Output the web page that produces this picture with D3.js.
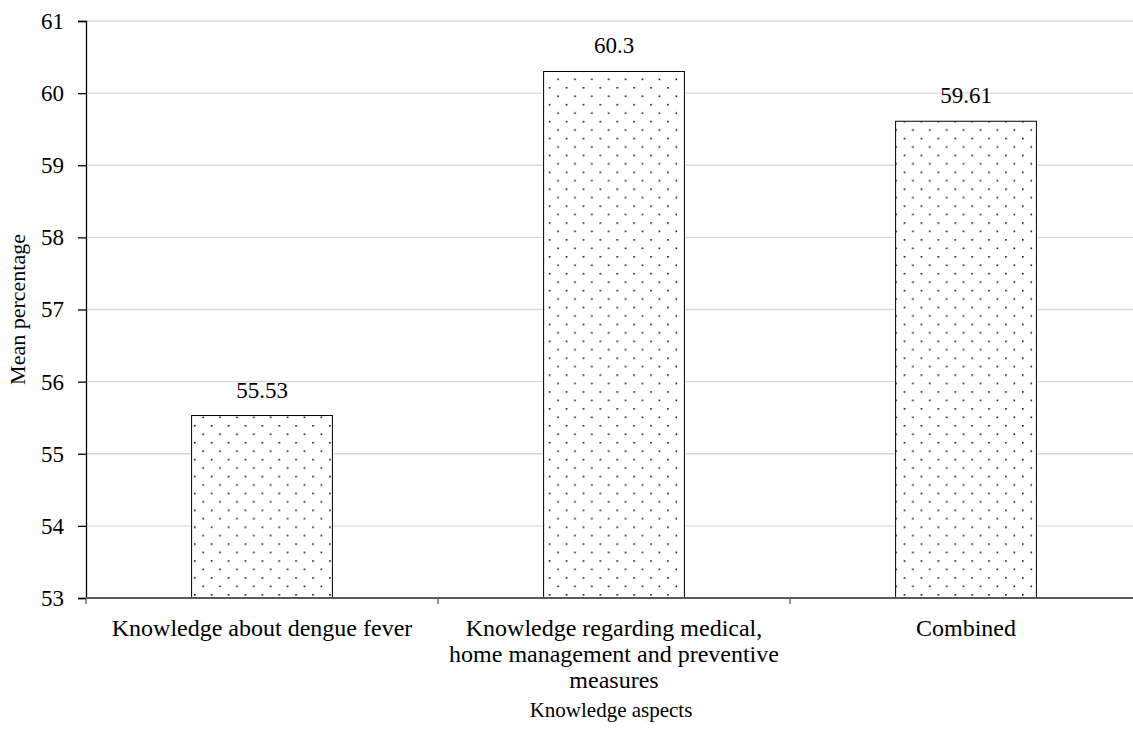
<!DOCTYPE html>
<html>
<head>
<meta charset="utf-8">
<script src="https://cdn.jsdelivr.net/npm/d3@7"></script>
<style>
  html, body { margin: 0; padding: 0; background: #fff; overflow: hidden; }
  svg { display: block; }
</style>
</head>
<body>
<svg id="chart" width="1133" height="738"></svg>
<script>
const categories = [
  "Knowledge about dengue fever",
  "Knowledge regarding medical, home management and preventive measures",
  "Combined"
];
const categoryLines = [
  ["Knowledge about dengue fever"],
  ["Knowledge regarding medical,", "home management and preventive", "measures"],
  ["Combined"]
];
const values = [55.53, 60.3, 59.61];
const valueLabels = ["55.53", "60.3", "59.61"];
const yTicks = [53, 54, 55, 56, 57, 58, 59, 60, 61];
const yDomain = [53, 61];
const xTitle = "Knowledge aspects";
const yTitle = "Mean percentage";

(function () {
const family = '"Liberation Serif", "Times New Roman", Times, serif';

const svg = d3.select("#chart");
const mLeft = 86, mRight = 1142, mTop = 21, mBottom = 598;
const fs = 23;

const x = d3.scaleBand().domain(categories).range([mLeft, mRight]).paddingInner(0).paddingOuter(0);
const y = d3.scaleLinear().domain(yDomain).range([mBottom, mTop]);

const defs = svg.append("defs");
const pat = defs.append("pattern")
  .attr("id", "dots").attr("patternUnits", "userSpaceOnUse")
  .attr("width", 16.9).attr("height", 16.9)
  .attr("x", 8.0).attr("y", 2.5);
pat.append("rect").attr("width", 16.9).attr("height", 16.9).attr("fill", "#fff");
pat.append("rect").attr("x", 0).attr("y", 0).attr("width", 1.6).attr("height", 1.6).attr("fill", "#111");
pat.append("rect").attr("x", 8.45).attr("y", 8.45).attr("width", 1.6).attr("height", 1.6).attr("fill", "#111");

svg.append("g").selectAll("line").data(yTicks.filter(d => d !== yDomain[0])).join("line")
  .attr("x1", mLeft).attr("x2", mRight)
  .attr("y1", d => y(d)).attr("y2", d => y(d))
  .attr("stroke", "#d9d9d9").attr("stroke-width", 1.3);

const barW = x.bandwidth() * 0.4;
svg.append("g").selectAll("rect").data(values).join("rect")
  .attr("x", (d, i) => x(categories[i]) + (x.bandwidth() - barW) / 2)
  .attr("y", d => y(d))
  .attr("width", barW)
  .attr("height", d => y(yDomain[0]) - y(d))
  .attr("fill", "url(#dots)")
  .attr("stroke", "#000").attr("stroke-width", 1);

svg.append("g").selectAll("text").data(values).join("text")
  .attr("x", (d, i) => x(categories[i]) + x.bandwidth() / 2)
  .attr("y", d => y(d) - 18)
  .attr("text-anchor", "middle")
  .attr("font-size", fs).attr("fill", "#000")
  .text((d, i) => valueLabels[i]);

const yAxis = svg.append("g").attr("transform", `translate(${mLeft},0)`)
  .call(d3.axisLeft(y).tickValues(yTicks).tickFormat(d3.format("d")).tickSize(8).tickPadding(14));
yAxis.select(".domain").attr("stroke", "#000").attr("stroke-width", 1.3);
yAxis.selectAll(".tick line").attr("stroke", "#000").attr("stroke-width", 1.3);
yAxis.selectAll("text").attr("font-size", fs).attr("fill", "#000");

const xAxis = svg.append("g").attr("transform", `translate(0,${mBottom})`);
xAxis.append("line").attr("x1", mLeft).attr("x2", mRight).attr("y1", 0).attr("y2", 0)
  .attr("stroke", "#595959").attr("stroke-width", 2);
const bounds = categories.map(c => x(c)).concat([mRight]);
xAxis.selectAll(".xt").data(bounds).join("line").attr("class", "xt")
  .attr("x1", d => d).attr("x2", d => d).attr("y1", 0).attr("y2", 6)
  .attr("stroke", "#595959").attr("stroke-width", 1.3);

const lab = svg.append("g").selectAll("text").data(categories).join("text")
  .attr("text-anchor", "middle").attr("font-size", 24).attr("fill", "#000");
lab.each(function(c, i) {
  const t = d3.select(this);
  categoryLines[i].forEach((ln, j) => {
    t.append("tspan").attr("x", x(c) + x.bandwidth() / 2).attr("y", 636 + j * 26).text(ln);
  });
});

svg.append("text").attr("x", (mLeft + mRight) / 2 - 3).attr("y", 717)
  .attr("text-anchor", "middle").attr("font-size", 21).attr("fill", "#000").text(xTitle);
svg.append("text").attr("transform", `translate(25,${(mTop + mBottom) / 2}) rotate(-90)`)
  .attr("text-anchor", "middle").attr("font-size", 22).attr("fill", "#000").text(yTitle);

svg.selectAll("text").attr("font-family", family).style("font-family", family);
})();
</script>
</body>
</html>
